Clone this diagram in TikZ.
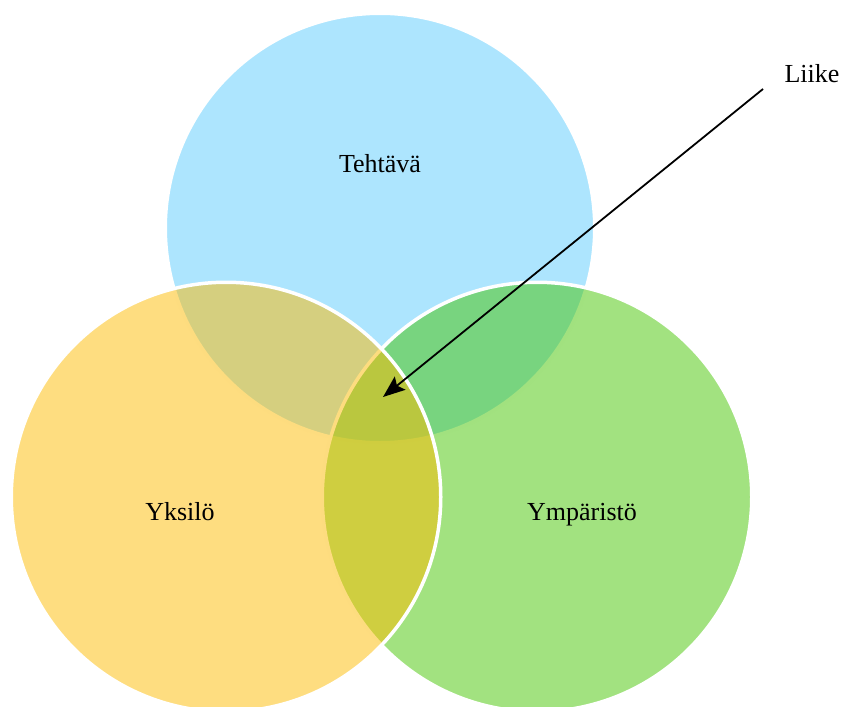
\documentclass[tikz,border=0pt]{standalone}
\usepackage{fontspec}
\setmainfont{Liberation Serif}
\usetikzlibrary{arrows.meta}
\definecolor{cblue}{RGB}{173,229,254}
\definecolor{cgreen}{RGB}{69,197,1}
\definecolor{cyellow}{RGB}{253,187,1}
\tikzset{
  vcircle/.style={circle, draw=white, line width=3.5pt, inner sep=0pt, minimum size=429.5pt},
  lbl/.style={font=\fontsize{26}{30}\selectfont, text=black, inner sep=0pt, anchor=base},
  pointer/.style={line width=1.8pt, -{Stealth[length=22pt,width=17pt,inset=4pt]}}
}
\begin{document}
\begin{tikzpicture}[x=1pt,y=-1pt]
\useasboundingbox (0,0) rectangle (842,706);
\begin{scope}
\clip (0,0) rectangle (842,706);
\node[vcircle, fill=cblue] (task) at (380,228) {};
\node[vcircle, fill=cgreen, fill opacity=0.5] (env) at (537,497) {};
\node[vcircle, fill=cyellow, fill opacity=0.5] (ind) at (226,497) {};
\end{scope}
\node[lbl] (t1) at (380,172) {Tehtävä};
\node[lbl] (t2) at (180,520.5) {Yksilö};
\node[lbl] (t3) at (582,520.5) {Ympäristö};
\node[lbl] (liike) at (812,83) {Liike};
\coordinate (from) at (763,89);
\coordinate (tip) at (383,397);
\draw[pointer] (from) -- (tip);
\end{tikzpicture}
\end{document}
